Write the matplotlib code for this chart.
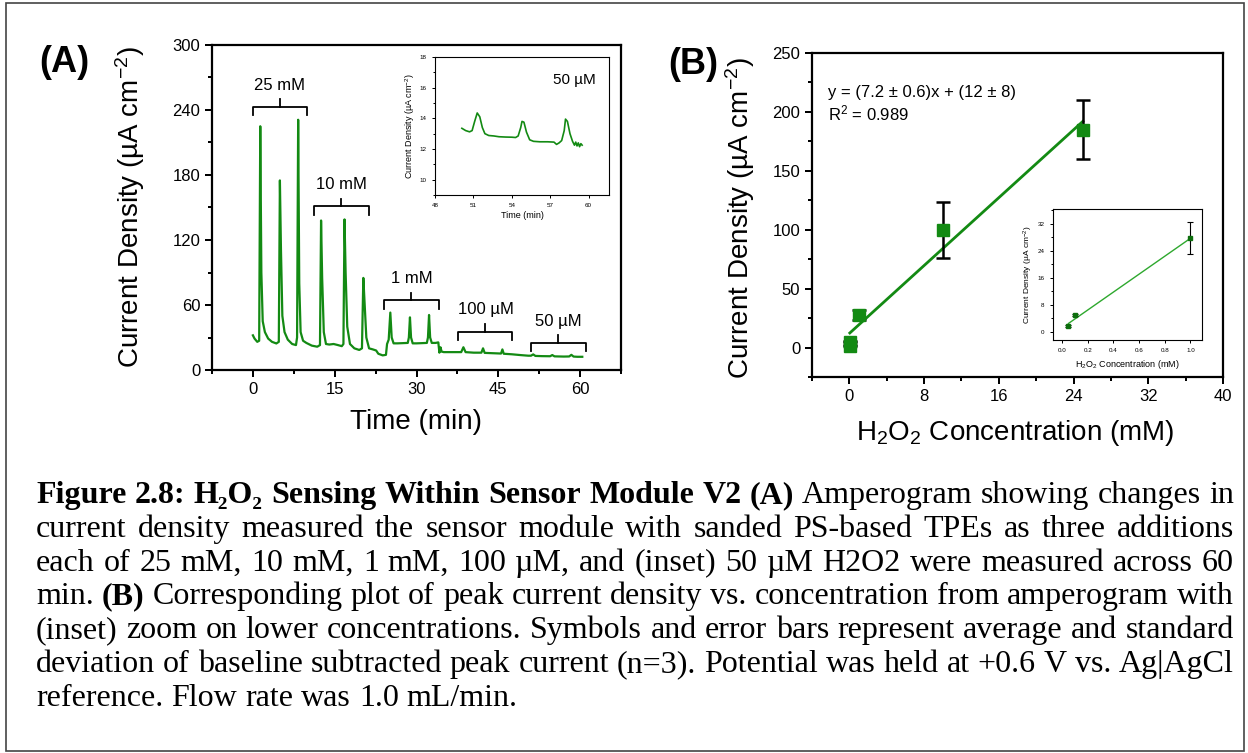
import numpy as np
import matplotlib
matplotlib.use('Agg')
import matplotlib.pyplot as plt
from matplotlib.ticker import MultipleLocator, FormatStrFormatter
from matplotlib.patches import Rectangle

plt.rcParams['font.family'] = ['Liberation Sans', 'DejaVu Sans']
plt.rcParams['mathtext.fontset'] = 'custom'
plt.rcParams['mathtext.rm'] = 'Liberation Sans'
plt.rcParams['mathtext.it'] = 'Liberation Sans:italic'
plt.rcParams['mathtext.bf'] = 'Liberation Sans:bold'

GREEN = '#138a13'

# ---- (A) amperogram ----
time_min = [0.0, 0.3, 0.8, 1.15, 1.35, 1.55, 1.8, 2.2, 2.8, 3.5, 4.3, 4.75, 4.95, 5.15, 5.4,
            5.8, 6.4, 7.2, 7.9, 8.1, 8.3, 8.5, 8.75, 9.2, 9.8, 10.8, 11.8, 12.3, 12.5, 12.7,
            13.0, 13.4, 14.0, 14.8, 15.6, 16.3, 16.6, 16.8, 17.0, 17.3, 17.8, 18.6, 19.5, 20.0,
            20.25, 20.5, 20.8, 21.3, 22.0, 22.6, 23.0, 23.8, 24.4, 24.6, 24.9, 25.2, 25.45, 25.8,
            26.5, 27.5, 28.4, 28.6, 28.8, 29.0, 29.3, 30.0, 31.0, 31.9, 32.1, 32.3, 32.5, 32.8,
            33.5, 34.0, 34.2, 34.4, 34.6, 35.0, 36.5, 38.2, 38.6, 39.0, 40.5, 41.9, 42.2, 42.5,
            44.0, 45.5, 45.75, 46.0, 47.5, 49.0, 50.5, 51.0, 51.4, 51.8, 53.0, 54.5, 54.9, 55.3,
            57.0, 58.0, 58.4, 58.8, 59.5, 60.4]
current = [32, 29, 26, 27, 225, 90, 45, 35, 29, 26, 24.5, 26, 175, 110, 50,
           35, 28, 24, 23, 30, 231, 80, 35, 27, 25, 22.5, 21.5, 23, 138, 85,
           35, 24, 23.5, 24, 23, 22, 24, 139, 90, 40, 24, 20, 18.5, 20,
           85, 60, 30, 20, 19, 18, 15, 13.5, 14, 24, 28, 53, 30, 24.6,
           24.6, 24.8, 25, 30, 48.6, 30, 24.6, 24.6, 24.8, 25, 30, 50.8, 30, 25,
           25, 25.5, 16, 21, 17, 16.5, 16.5, 16.5, 21, 16.5, 16, 16, 20, 15.8,
           15.5, 15.2, 19, 15, 14.5, 13.8, 13.2, 13.2, 14.4, 13.0, 12.8, 12.7, 13.8, 12.6,
           12.4, 12.5, 14.0, 12.4, 12.2, 12.2]

# inset: 50 uM additions
inset_t = [50.1, 50.4, 50.7, 50.9, 51.1, 51.3, 51.5, 51.7, 51.9, 52.2, 52.6, 53.0, 53.5, 54.0,
           54.3, 54.5, 54.7, 54.8, 54.95, 55.15, 55.4, 55.7, 56.2, 56.8, 57.3, 57.5, 57.7, 57.9,
           58.1, 58.2, 58.35, 58.55, 58.75, 58.9, 59.0, 59.1, 59.2, 59.3, 59.4, 59.5]
inset_j = [13.35, 13.2, 13.12, 13.2, 13.8, 14.35, 14.1, 13.4, 13.0, 12.88, 12.85, 12.8, 12.78, 12.77,
           12.75, 12.85, 13.4, 13.8, 13.75, 13.1, 12.6, 12.5, 12.47, 12.47, 12.45, 12.3, 12.4, 12.55,
           13.2, 13.95, 13.8, 13.0, 12.5, 12.25, 12.45, 12.2, 12.4, 12.15, 12.35, 12.25]

# brackets (start, end, height, label)
br_start = [0, 11.25, 24, 37.7, 51]
br_end = [9.9, 21.2, 34.1, 47.6, 61]
br_y = [243, 151, 64.5, 35.5, 25.2]
br_label = ['25 mM', '10 mM', '1 mM', '100 µM', '50 µM']

# ---- (B) calibration ----
conc = [0.05, 0.1, 1, 10, 25]
j_mean = [1.7, 4.9, 27.6, 99.8, 185]
j_sd = [0.3, 0.4, 4.6, 23.8, 25]
slope, intercept = 7.2, 12
fit_x = [0.05, 25]
inset_conc = [0.05, 0.1, 1.0]
inset_mean = [1.6, 4.9, 27.8]
inset_sd = [0.3, 0.3, 4.7]
inset_fit_x = [0.05, 1.0]
inset_fit_y = [2.4, 27.7]

caption = [
    [("Figure 2.8: H\u2082O\u2082 Sensing Within Sensor Module V2 (A)", True), ("Amperogram showing changes in", False)],
    [("current density measured the sensor module with sanded PS-based TPEs as three additions", False)],
    [("each of 25 mM, 10 mM, 1 mM, 100 µM, and (inset) 50 µM H2O2 were measured across 60", False)],
    [("min.", False), ("(B)", True), ("Corresponding plot of peak current density vs. concentration from amperogram with", False)],
    [("(inset) zoom on lower concentrations. Symbols and error bars represent average and standard", False)],
    [("deviation of baseline subtracted peak current (n=3). Potential was held at +0.6 V vs. Ag|AgCl", False)],
    [("reference. Flow rate was 1.0 mL/min.", False)],
]

W, H = 1248, 753
fig = plt.figure(figsize=(W / 100, H / 100), dpi=100)


def px_axes(l, t, r, b):
    return fig.add_axes([l / W, 1 - b / H, (r - l) / W, (b - t) / H])


def style(ax, lw, tl, ls):
    for s in ax.spines.values():
        s.set_linewidth(lw)
    ax.tick_params(which='both', direction='out', top=False, right=False, width=lw * 0.9, labelsize=ls)
    ax.tick_params(which='major', length=tl)
    ax.tick_params(which='minor', length=tl * 0.6)


# panel A
axA = px_axes(212, 45, 621, 370)
axA.plot(time_min, current, color=GREEN, lw=1.6)
axA.set_xlim(-7.5, 67.5)
axA.set_ylim(0, 300)
axA.xaxis.set_major_locator(MultipleLocator(15))
axA.xaxis.set_minor_locator(MultipleLocator(7.5))
axA.yaxis.set_major_locator(MultipleLocator(60))
axA.yaxis.set_minor_locator(MultipleLocator(30))
style(axA, 1.6, 5, 12)
axA.set_xlabel('Time (min)', fontsize=20)
axA.set_ylabel('Current Density (µA cm$^{-2}$)', fontsize=20)
axA.xaxis.set_label_coords(0.5, -0.12)
axA.yaxis.set_label_coords(-0.16, 0.5)
for x0, x1, y, lab in zip(br_start, br_end, br_y, br_label):
    xm = (x0 + x1) / 2
    axA.plot([x0, x0, x1, x1], [y - 8, y, y, y - 8], color='black', lw=1.3)
    axA.plot([xm, xm], [y, y + 7], color='black', lw=1.3)
    axA.text(xm, y + 13, lab, ha='center', va='bottom', fontsize=12)

insA = px_axes(435, 57, 609, 195)
insA.plot(inset_t, inset_j, color=GREEN, lw=1.2)
insA.set_xlim(48, 61.6)
insA.set_ylim(9, 18)
insA.xaxis.set_major_locator(MultipleLocator(3))
insA.yaxis.set_major_locator(MultipleLocator(2))
insA.yaxis.set_minor_locator(MultipleLocator(1))
style(insA, 0.8, 2.5, 4.5)
insA.set_xlabel('Time (min)', fontsize=6.5, labelpad=2)
insA.set_ylabel('Current Density (µA cm$^{-2}$)', fontsize=6.5, labelpad=2)
insA.text(0.925, 0.83, '50 µM', transform=insA.transAxes, ha='right', va='center', fontsize=11)

# panel B
axB = px_axes(812, 53, 1223, 377)
axB.plot(fit_x, [slope * x + intercept for x in fit_x], color=GREEN, lw=2, zorder=2)
axB.errorbar(conc, j_mean, yerr=j_sd, fmt='s', color=GREEN, ms=8, ecolor='black',
             elinewidth=1.8, capsize=5, capthick=1.8, zorder=3)
axB.set_xlim(-4, 40)
axB.set_ylim(-25, 250)
axB.xaxis.set_major_locator(MultipleLocator(8))
axB.xaxis.set_minor_locator(MultipleLocator(4))
axB.yaxis.set_major_locator(MultipleLocator(50))
axB.yaxis.set_minor_locator(MultipleLocator(25))
style(axB, 1.6, 5, 12)
axB.set_xlabel('H$_2$O$_2$ Concentration (mM)', fontsize=20)
axB.set_ylabel('Current Density (µA cm$^{-2}$)', fontsize=20)
axB.xaxis.set_label_coords(0.494, -0.127)
axB.yaxis.set_label_coords(-0.134, 0.49)
axB.text(0.039, 0.879, 'y = (7.2 ± 0.6)x + (12 ± 8)', transform=axB.transAxes, fontsize=12, va='center')
axB.text(0.039, 0.814, 'R$^2$ = 0.989', transform=axB.transAxes, fontsize=12, va='center')

insB = px_axes(1053, 209, 1202, 340)
insB.plot(inset_fit_x, inset_fit_y, color='#2ea82e', lw=1.0)
insB.errorbar(inset_conc, inset_mean, yerr=inset_sd, fmt='s', color='#0d6e0d', ms=3,
              ecolor='black', elinewidth=0.8, capsize=2, capthick=0.8)
insB.set_xlim(-0.07, 1.09)
insB.set_ylim(-2.5, 36.4)
insB.xaxis.set_major_locator(MultipleLocator(0.2))
insB.xaxis.set_major_formatter(FormatStrFormatter('%.1f'))
insB.yaxis.set_major_locator(MultipleLocator(8))
insB.yaxis.set_minor_locator(MultipleLocator(4))
style(insB, 0.8, 2.5, 4.5)
insB.set_xlabel('H$_2$O$_2$ Concentration (mM)', fontsize=6.5, labelpad=3)
insB.set_ylabel('Current Density (µA cm$^{-2}$)', fontsize=6, labelpad=2)

fig.text(64 / W, 1 - 62 / H, '(A)', fontsize=26, fontweight='bold', ha='center', va='center')
fig.text(693 / W, 1 - 64 / H, '(B)', fontsize=26, fontweight='bold', ha='center', va='center')

# caption, justified word by word
fig.patches.append(Rectangle((6 / W, 2 / H), (W - 10) / W, (H - 5) / H, transform=fig.transFigure,
                             fill=False, edgecolor='#444444', lw=1.2))
renderer = fig.canvas.get_renderer()
cap_left, cap_right = 36, 1234
cap_font = ['Liberation Serif', 'DejaVu Serif']
cap_size = 23
for i, line in enumerate(caption):
    base = 503 + 33.8 * i
    words = []
    for seg, bold in line:
        for w in seg.split(' '):
            words.append((w, bold))
    texts = []
    for w, bold in words:
        t = fig.text(0, 0, w, fontsize=cap_size, family=cap_font,
                     fontweight='bold' if bold else 'normal', va='baseline', ha='left')
        texts.append(t)
    widths = [t.get_window_extent(renderer).width for t in texts]
    if i < len(caption) - 1:
        gap = (cap_right - cap_left - sum(widths)) / (len(words) - 1)
    else:
        sp = fig.text(0, 0, 'a a', fontsize=cap_size, family=cap_font)
        sp2 = fig.text(0, 0, 'aa', fontsize=cap_size, family=cap_font)
        gap = sp.get_window_extent(renderer).width - sp2.get_window_extent(renderer).width
        sp.remove()
        sp2.remove()
    x = cap_left
    for t, wd in zip(texts, widths):
        t.set_position((x / W, 1 - base / H))
        x += wd + gap

fig.savefig('out.png', dpi=100)
